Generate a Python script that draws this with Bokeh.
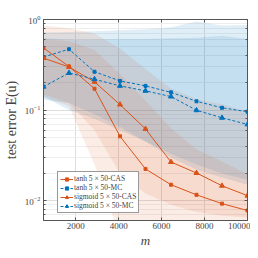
from bokeh.plotting import figure
from bokeh.models import LinearAxis, LogAxis, Legend, LegendItem, FixedTicker, Range1d
from bokeh.embed import file_html
from bokeh.resources import INLINE

m = [500, 1688, 2875, 4063, 5250, 6438, 7625, 8813, 10000]

tanh_cas = [0.485, 0.303, 0.172, 0.0513, 0.0224, 0.0150, 0.0116, 0.00927, 0.00778]
tanh_mc = [0.385, 0.470, 0.265, 0.210, 0.185, 0.157, 0.125, 0.106, 0.096]
sig_cas = [0.375, 0.299, 0.205, 0.115, 0.0619, 0.0267, 0.0202, 0.0146, 0.01135]
sig_mc = [0.181, 0.257, 0.219, 0.185, 0.163, 0.141, 0.0995, 0.0822, 0.0695]

tanh_cas_lo = [0.14, 0.11, 0.025, 0.004, 0.003, 0.003, 0.003, 0.003, 0.003]
tanh_cas_hi = [0.6, 0.58, 0.46, 0.25, 0.127, 0.063, 0.037, 0.027, 0.0196]
sig_cas_lo = [0.15, 0.12, 0.06, 0.02, 0.012, 0.009, 0.0075, 0.0068, 0.0065]
sig_cas_hi = [0.86, 0.80, 0.70, 0.477, 0.284, 0.172, 0.132, 0.116, 0.096]
tanh_mc_lo = [0.13, 0.12, 0.09, 0.065, 0.045, 0.03, 0.022, 0.018, 0.015]
tanh_mc_hi = [0.72, 0.73, 0.74, 0.76, 0.78, 0.82, 0.95, 0.86, 0.87]
sig_mc_lo = [0.14, 0.1, 0.08, 0.06, 0.045, 0.033, 0.025, 0.02, 0.017]
sig_mc_hi = [0.62, 0.6, 0.6, 0.61, 0.61, 0.62, 0.63, 0.66, 0.61]

x_ticks = [2000, 4000, 6000, 8000, 10000]
labels = ["tanh 5 \u00d7 50-CAS", "tanh 5 \u00d7 50-MC",
          "sigmoid 5 \u00d7 50-CAS", "sigmoid 5 \u00d7 50-MC"]

ORANGE = "#D95319"
BLUE = "#0072BD"
FONT = "Liberation Serif"

p = figure(width=250, height=250, y_axis_type="log",
           x_range=Range1d(500, 10000), y_range=Range1d(0.00604, 1.0),
           output_backend="svg", toolbar_location=None,
           min_border_left=41, min_border_right=3, min_border_top=19,
           min_border_bottom=28)

# bands
p.varea(x=m, y1=tanh_mc_lo, y2=tanh_mc_hi, fill_color=BLUE, fill_alpha=0.12)
p.varea(x=m, y1=sig_mc_lo, y2=sig_mc_hi, fill_color=BLUE, fill_alpha=0.12)
p.varea(x=m, y1=tanh_cas_lo, y2=tanh_cas_hi, fill_color=ORANGE, fill_alpha=0.11)
p.varea(x=m, y1=sig_cas_lo, y2=sig_cas_hi, fill_color=ORANGE, fill_alpha=0.11)

r1l = p.line(m, tanh_cas, line_color=ORANGE, line_width=1)
r1m = p.scatter(m, tanh_cas, marker="square", size=3, fill_color=ORANGE, line_color=ORANGE)
r2l = p.line(m, tanh_mc, line_color=BLUE, line_width=1, line_dash="3 2")
r2m = p.scatter(m, tanh_mc, marker="square", size=3, fill_color=BLUE, line_color=BLUE)
r3l = p.line(m, sig_cas, line_color=ORANGE, line_width=1)
r3m = p.scatter(m, sig_cas, marker="triangle", size=5, fill_color=ORANGE, line_color=ORANGE)
r4l = p.line(m, sig_mc, line_color=BLUE, line_width=1, line_dash="3 2")
r4m = p.scatter(m, sig_mc, marker="triangle", size=5, fill_color=BLUE, line_color=BLUE)

legend = Legend(items=[
    LegendItem(label=labels[0], renderers=[r1l, r1m]),
    LegendItem(label=labels[1], renderers=[r2l, r2m]),
    LegendItem(label=labels[2], renderers=[r3l, r3m]),
    LegendItem(label=labels[3], renderers=[r4l, r4m]),
], location=(14, 7))
legend.label_text_font = FONT
legend.label_text_font_size = "7.5px"
legend.label_height = 8
legend.glyph_height = 8
legend.glyph_width = 13
legend.spacing = 0
legend.padding = 2
legend.margin = 0
legend.label_standoff = 1
legend.border_line_color = "#333333"
legend.border_line_width = 1
legend.background_fill_alpha = 1.0
p.add_layout(legend)

# axes styling
p.xaxis.ticker = FixedTicker(ticks=x_ticks)
p.xaxis.axis_label = "m"
p.xaxis.axis_label_text_font_style = "italic"
p.yaxis.axis_label = "test error E(u)"
p.yaxis.axis_label_text_font_style = "normal"
for ax in [p.xaxis[0], p.yaxis[0]]:
    ax.axis_label_text_font = FONT
    ax.axis_label_text_font_size = "14px"
    ax.major_label_text_font = FONT
    ax.major_label_text_font_size = "9px"
    ax.major_tick_in = 3
    ax.major_tick_out = 0
    ax.minor_tick_in = 2
    ax.minor_tick_out = 0
    ax.axis_line_color = "#555555"
    ax.major_tick_line_color = "#555555"
    ax.minor_tick_line_color = "#555555"
    ax.major_label_standoff = 3
    ax.axis_label_standoff = 3
p.xaxis.minor_tick_line_color = None
p.xaxis.major_label_standoff = 2
p.xaxis.axis_label_standoff = 1
p.xaxis.axis_label_text_font_size = "13px"

top = LinearAxis(ticker=FixedTicker(ticks=x_ticks),
                 major_label_text_color=None, major_label_text_font_size="1px",
                 major_label_standoff=0,
                 major_tick_in=3, major_tick_out=0,
                 minor_tick_line_color=None, axis_line_color="#555555",
                 major_tick_line_color="#555555")
p.add_layout(top, "above")
right = LogAxis(major_label_text_color=None, major_label_text_font_size="1px",
                major_label_standoff=0,
                major_tick_in=3, major_tick_out=0,
                minor_tick_in=2, minor_tick_out=0, axis_line_color="#555555",
                major_tick_line_color="#555555", minor_tick_line_color="#555555")
p.add_layout(right, "right")

p.xgrid.grid_line_color = "#dddddd"
p.ygrid.grid_line_color = "#dddddd"
p.ygrid.minor_grid_line_color = "#eeeeee"
p.outline_line_color = "#555555"

open("out.html", "w").write(file_html(p, INLINE))
